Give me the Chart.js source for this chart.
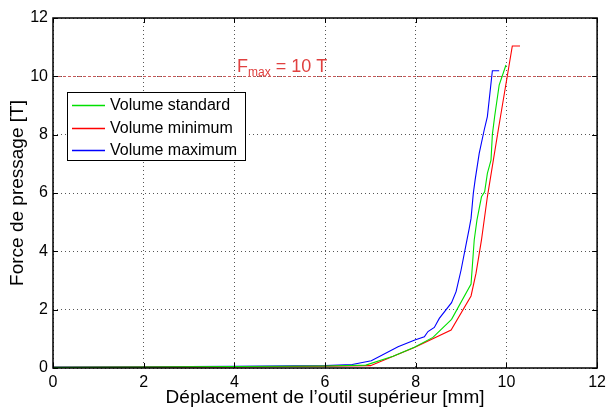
<!DOCTYPE html>
<html><head><meta charset="utf-8">
<script src="https://cdn.jsdelivr.net/npm/chart.js@4"></script>
<style>html,body{margin:0;padding:0;background:#fff}#wrap{width:611px;height:409px}</style>
</head><body><div id="wrap"><canvas id="c" width="611" height="409"></canvas></div>
<script>
const seriesNames = ['Volume standard', 'Volume minimum', 'Volume maximum'];
const stdX = [0, 2, 4, 6, 6.9, 7.5, 7.97, 8.38, 8.79, 9.22, 9.29, 9.35, 9.45, 9.52, 9.58, 9.66, 9.69, 9.74, 9.84, 9.99];
const stdY = [0.02, 0.03, 0.05, 0.07, 0.1, 0.4, 0.71, 1.05, 1.67, 2.88, 4.39, 5.07, 5.87, 6.04, 6.67, 7.13, 8.0, 8.62, 9.70, 10.39];
const minX = [0, 2, 4, 6, 7.0, 7.97, 8.78, 9.22, 9.33, 9.45, 9.58, 9.82, 10.13, 10.3];
const minY = [0.02, 0.03, 0.04, 0.06, 0.08, 0.7, 1.30, 2.47, 3.25, 4.39, 5.87, 8.16, 11.04, 11.04];
const maxX = [0, 2, 4, 6, 6.6, 7.02, 7.61, 7.98, 8.19, 8.27, 8.41, 8.52, 8.79, 8.89, 9.0, 9.13, 9.18, 9.22, 9.27, 9.31, 9.40, 9.51, 9.58, 9.69, 9.84];
const maxY = [0.03, 0.04, 0.06, 0.08, 0.12, 0.25, 0.73, 0.96, 1.07, 1.25, 1.39, 1.70, 2.24, 2.62, 3.36, 4.39, 4.79, 5.13, 5.99, 6.45, 7.36, 8.16, 8.62, 10.19, 10.19];
const xTicks = [0, 2, 4, 6, 8, 10, 12];
const yTicks = [0, 2, 4, 6, 8, 10, 12];
const fmaxValue = 10;
const fmaxLabel = {main: 'F', sub: 'max', rest: ' = 10 T'};
const xTitle = 'Déplacement de l’outil supérieur [mm]';
const yTitle = 'Force de pressage [T]';

const colors = ['#00e000', '#ff0000', '#0000ff'];
const toPts = (xs, ys) => xs.map((x, i) => ({x: x, y: ys[i]}));
const FONT = '"Liberation Sans", Arial, sans-serif';

const boxPlugin = {
  id: 'box',
  beforeDatasetsDraw(chart) {
    const {ctx, chartArea: a, scales: {y}} = chart;
    const yy = Math.round(y.getPixelForValue(fmaxValue)) + 0.5;
    ctx.save();
    ctx.strokeStyle = '#c85a5a';
    ctx.lineWidth = 1;
    ctx.setLineDash([3, 2]);
    ctx.beginPath(); ctx.moveTo(a.left, yy); ctx.lineTo(a.right, yy); ctx.stroke();
    ctx.restore();
  },
  afterDraw(chart) {
    const {ctx, chartArea: a, scales: {x, y}} = chart;
    ctx.save();
    ctx.strokeStyle = '#000'; ctx.lineWidth = 1.5; ctx.setLineDash([]);
    ctx.strokeRect(a.left, a.top, a.right - a.left, a.bottom - a.top);
    ctx.lineWidth = 1;
    ctx.beginPath();
    xTicks.forEach(v => { const px = Math.round(x.getPixelForValue(v)) + 0.5;
      ctx.moveTo(px, a.bottom); ctx.lineTo(px, a.bottom - 5);
      ctx.moveTo(px, a.top); ctx.lineTo(px, a.top + 5); });
    yTicks.forEach(v => { const py = Math.round(y.getPixelForValue(v)) + 0.5;
      ctx.moveTo(a.left, py); ctx.lineTo(a.left + 5, py);
      ctx.moveTo(a.right, py); ctx.lineTo(a.right - 5, py); });
    ctx.stroke();
    // Fmax label
    ctx.fillStyle = '#e0403f';
    ctx.textBaseline = 'alphabetic';
    let tx = x.getPixelForValue(4.06), ty = y.getPixelForValue(fmaxValue) - 4;
    ctx.font = '18px ' + FONT;
    ctx.fillText(fmaxLabel.main, tx, ty);
    tx += ctx.measureText(fmaxLabel.main).width;
    ctx.font = '12px ' + FONT;
    ctx.fillText(fmaxLabel.sub, tx, ty + 4);
    tx += ctx.measureText(fmaxLabel.sub).width;
    ctx.font = '18px ' + FONT;
    ctx.fillText(fmaxLabel.rest, tx, ty);
    // legend
    const lx = 67, ly = 92, lw = 178, lh = 68;
    ctx.fillStyle = '#fff';
    ctx.fillRect(lx, ly, lw, lh);
    ctx.strokeStyle = '#000'; ctx.lineWidth = 1;
    ctx.strokeRect(lx + 0.5, ly + 0.5, lw, lh);
    ctx.font = '16px ' + FONT;
    ctx.textBaseline = 'middle';
    chart.data.datasets.forEach((ds, i) => {
      const ry = ly + 13 + i * 22.5;
      ctx.strokeStyle = colors[i]; ctx.lineWidth = 1.3;
      ctx.beginPath(); ctx.moveTo(lx + 5, Math.round(ry) + 0.5); ctx.lineTo(lx + 38, Math.round(ry) + 0.5); ctx.stroke();
      ctx.fillStyle = '#000';
      ctx.fillText(ds.label, lx + 43, ry + 1);
    });
    ctx.restore();
  }
};

new Chart(document.getElementById('c'), {
  type: 'line',
  data: {
    datasets: [
      {label: seriesNames[0], data: toPts(stdX, stdY), borderColor: colors[0]},
      {label: seriesNames[1], data: toPts(minX, minY), borderColor: colors[1]},
      {label: seriesNames[2], data: toPts(maxX, maxY), borderColor: colors[2]}
    ].map(d => Object.assign(d, {borderWidth: 1.1, pointRadius: 0, tension: 0, fill: false}))
  },
  options: {
    responsive: false, animation: false,
    layout: {padding: {top: 18, right: 11, left: 0, bottom: 0}},
    plugins: {legend: {display: false}, tooltip: {enabled: false}},
    scales: {
      x: {
        type: 'linear', min: 0, max: 12,
        afterBuildTicks: s => { s.ticks = xTicks.map(v => ({value: v})); },
        afterFit: s => { s.height = 41; },
        grid: {color: '#555', drawTicks: false, lineWidth: 1},
        border: {display: false, dash: [1, 3]},
        ticks: {color: '#000', font: {family: FONT, size: 16}, padding: 5, maxRotation: 0},
        title: {display: true, text: xTitle, color: '#000', font: {family: FONT, size: 19}, padding: {top: 0, bottom: 0}}
      },
      y: {
        type: 'linear', min: 0, max: 12,
        afterBuildTicks: s => { s.ticks = yTicks.map(v => ({value: v})); },
        afterFit: s => { s.width = 53; },
        grid: {color: '#555', drawTicks: false, lineWidth: 1},
        border: {display: false, dash: [1, 3]},
        ticks: {color: '#000', font: {family: FONT, size: 16}, padding: 5},
        title: {display: true, text: yTitle, color: '#000', font: {family: FONT, size: 19}, padding: {top: 6, bottom: 0}}
      }
    }
  },
  plugins: [boxPlugin]
});
</script></body></html>
